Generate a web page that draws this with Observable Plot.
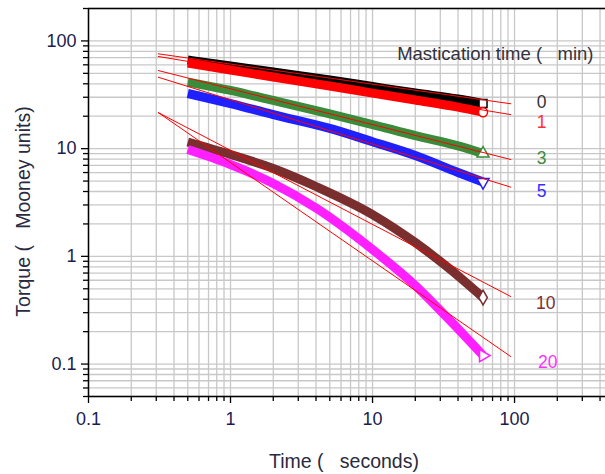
<!DOCTYPE html>
<html><head><meta charset="utf-8">
<script src="https://cdn.jsdelivr.net/npm/d3@7"></script>
<script src="https://cdn.jsdelivr.net/npm/@observablehq/plot@0.6"></script>
<style>body{margin:0;background:#fff} svg{display:block}</style>
</head><body><div id="chart"></div>
<script>
// ---- data ----
const seriesNames = ["0", "1", "3", "5", "10", "20"];
const seriesColors = ["#000000", "#ff0000", "#3a8c3a", "#2020ff", "#7a2e2e", "#ff20ff"];
const labelColors = ["#333333", "#ff3030", "#3a8c3a", "#3030ff", "#803030", "#ff30ff"];
const seriesSymbols = ["square", "circle", "triangle", "triangle", "diamond", "triangle"];
const symbolRotate = [0, 0, 0, 180, 0, 90];

const timesUpper = [0.5, 1, 2, 5, 10, 20, 40, 60];
const torque0 = [66.5, 58.5, 51.5, 43.4, 37.7, 32.8, 28.9, 26.2];
const torque1 = [62.4, 53.7, 46.2, 38.1, 32.8, 28.3, 24.3, 21.8];
const torque3 = [41.5, 34.7, 28.0, 21.0, 16.75, 13.2, 10.6, 9.0];
const torque5 = [32.5, 26.2, 20.7, 15.4, 11.6, 8.63, 6.0, 4.9];
const timesLower = [0.5, 1, 2, 4, 10, 20, 34, 60];
const torque10 = [11.52, 8.82, 6.54, 4.45, 2.445, 1.344, 0.787, 0.4145];
const torque20 = [9.81, 7.12, 4.745, 2.81, 1.157, 0.536, 0.265, 0.120];

const fitTimes = [0.31, 94];
const fit0 = [75.9, 26.1];
const fit1 = [71.7, 20.7];
const fit3 = [53.1, 7.93];
const fit5 = [46.0, 4.39];
const fit10 = [21.6, 0.424];
const fit20 = [21.6, 0.1175];

const xMajor = [0.1, 1, 10, 100];
const xMajorLabels = ["0.1", "1", "10", "100"];
const yMajor = [0.1, 1, 10, 100];
const yMajorLabels = ["0.1", "1", "10", "100"];
const xDomain = [0.1, 437];
const yDomain = [0.05, 200];

const labelDx = [31, 31, 31, 31, 35, 37];
const labelDy = [-1, 8, -1, 4, 7, 6];

// ---- build tables ----
const seriesTimes = [timesUpper, timesUpper, timesUpper, timesUpper, timesLower, timesLower];
const seriesTorque = [torque0, torque1, torque3, torque5, torque10, torque20];
const seriesFits = [fit0, fit1, fit3, fit5, fit10, fit20];

const minorTicks = (lo, hi) => {
  const out = [];
  for (let e = -2; e <= 3; e++) for (let m = 1; m <= 9; m++) {
    const v = +(m * Math.pow(10, e)).toPrecision(3);
    if (v >= lo * 0.999 && v <= hi * 1.001) out.push(v);
  }
  return out;
};
const xAll = minorTicks(xDomain[0], xDomain[1]);
const yAll = minorTicks(yDomain[0], yDomain[1]);
const xMinor = xAll.filter(v => !xMajor.includes(v));
const yMinor = yAll.filter(v => !yMajor.includes(v));

const font = "'Liberation Sans', Arial, sans-serif";
const tickColor = "#1c1c50";

const marks = [
  Plot.gridX(xAll, {stroke: "#c8c8c8", strokeOpacity: 1, strokeWidth: 1.3}),
  Plot.gridY(yAll, {stroke: "#c8c8c8", strokeOpacity: 1, strokeWidth: 1.3})
];

seriesNames.forEach((name, i) => {
  const rows = seriesTimes[i].map((t, j) => ({t, v: seriesTorque[i][j]}));
  marks.push(Plot.line(rows, {x: "t", y: "v", stroke: seriesColors[i], strokeWidth: 9, strokeLinecap: "butt", curve: "monotone-x"}));
  marks.push(Plot.dot([rows[rows.length - 1]], {
    x: "t", y: "v", symbol: seriesSymbols[i], rotate: symbolRotate[i], r: 4.5,
    fill: "white", stroke: seriesColors[i], strokeWidth: 1.5
  }));
});

seriesNames.forEach((name, i) => {
  const rows = fitTimes.map((t, j) => ({t, v: seriesFits[i][j]}));
  marks.push(Plot.line(rows, {x: "t", y: "v", stroke: "#ff0000", strokeWidth: 1}));
  marks.push(Plot.text([rows[1]], {
    x: "t", y: "v", text: () => name, dx: labelDx[i], dy: labelDy[i],
    fill: labelColors[i], fontSize: 17.5, textAnchor: "middle"
  }));
});

marks.push(
  Plot.ruleY([yDomain[1]], {stroke: "black", strokeWidth: 1.5}),
  Plot.ruleX([xDomain[0]], {stroke: "black", strokeWidth: 1.5}),
  Plot.ruleY([yDomain[0]], {stroke: "black", strokeWidth: 1.5}),
  Plot.axisY(yMajor, {tickSize: 7, tickPadding: 5, tickFormat: d => yMajorLabels[yMajor.indexOf(d)], fontSize: 18, fill: tickColor, stroke: "black", strokeWidth: 1.3, label: null}),
  Plot.axisY(yMinor, {tickSize: 5, tickFormat: () => "", stroke: "black", strokeWidth: 1.3, label: null}),
  Plot.axisX(xMajor, {tickSize: 7, tickPadding: 9, tickFormat: d => xMajorLabels[xMajor.indexOf(d)], fontSize: 18, fill: tickColor, stroke: "black", strokeWidth: 1.3, label: null}),
  Plot.axisX(xMinor, {tickSize: 5, tickFormat: () => "", stroke: "black", strokeWidth: 1.3, label: null}),
  Plot.text(["Torque (   Mooney units)"], {frameAnchor: "left", dx: -65, dy: 9, rotate: -90, textAnchor: "middle", lineAnchor: "middle", fontSize: 19.5, fill: "#2a2a40", text: d => d}),
  Plot.text(["Time (   seconds)"], {frameAnchor: "bottom", dx: -3, dy: 65, lineAnchor: "middle", fontSize: 19.5, fill: "#2a2a40", text: d => d}),
  Plot.text(["Mastication time (   min)"], {frameAnchor: "top-right", dx: -12, dy: 46, textAnchor: "end", lineAnchor: "middle", fontSize: 18.5, fill: "#333340", text: d => d})
);

const chart = Plot.plot({
  width: 605, height: 474,
  marginLeft: 88, marginRight: 0, marginTop: 8, marginBottom: 78,
  x: {type: "log", domain: xDomain, axis: null},
  y: {type: "log", domain: yDomain, axis: null},
  style: {fontFamily: font, background: "white", overflow: "visible"},
  marks
});
document.getElementById("chart").appendChild(chart);
</script>
</body></html>
